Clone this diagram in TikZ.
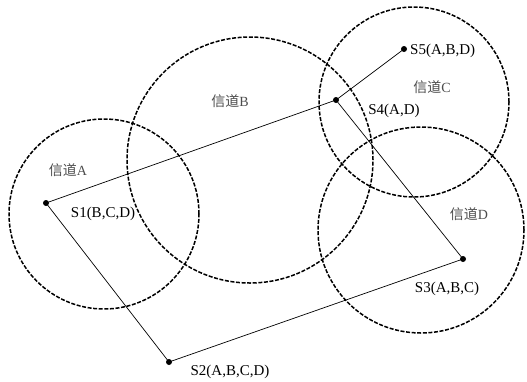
\documentclass[tikz,border=0pt]{standalone}
\usepackage{fontspec}
\setmainfont{Liberation Serif}
\newfontfamily\cjk{Noto Sans CJK SC}
\begin{document}
\begin{tikzpicture}[x=1pt,y=-1pt,
  chan/.style={circle,draw=black,line width=1.5pt,dash pattern=on 4pt off 1.6pt,inner sep=0pt},
  station/.style={circle,fill=black,inner sep=0pt,minimum size=6pt},
  link/.style={draw=black,line width=0.7pt},
  lab/.style={font=\fontsize{15}{17}\selectfont,inner sep=0pt},
  clab/.style={font=\fontsize{14}{16}\selectfont,text=black!70,inner sep=0pt}]
\useasboundingbox (0,0) rectangle (527,381);
% channels
\node[chan,minimum size=190pt] (cA) at (104,214) {};
\node[chan,minimum size=246pt] (cB) at (250,160) {};
\node[chan,minimum size=190pt] (cC) at (414,102) {};
\node[chan,minimum size=206pt] (cD) at (421,230) {};
% stations
\node[station] (s1) at (46,203) {};
\node[station] (s2) at (169,362) {};
\node[station] (s3) at (463,259) {};
\node[station] (s4) at (336,100) {};
\node[station] (s5) at (404,49) {};
% links
\draw[link] (s1.center) -- (s4.center);
\draw[link] (s4.center) -- (s5.center);
\draw[link] (s4.center) -- (s3.center);
\draw[link] (s1.center) -- (s2.center);
\draw[link] (s2.center) -- (s3.center);
% station labels
\node[lab] (l1) at (103,214) {S1(B,C,D)};
\node[lab] (l2) at (230,372) {S2(A,B,C,D)};
\node[lab] (l3) at (447,289) {S3(A,B,C)};
\node[lab] (l4) at (394,111) {S4(A,D)};
\node[lab,anchor=west] (l5) at (410,51) {S5(A,B,D)};
% channel labels
\node[clab] (nA) at (68,170) {{\cjk 信道}A};
\node[clab] (nB) at (230,101) {{\cjk 信道}B};
\node[clab] (nC) at (432,87) {{\cjk 信道}C};
\node[clab] (nD) at (469,214) {{\cjk 信道}D};
\end{tikzpicture}
\end{document}
